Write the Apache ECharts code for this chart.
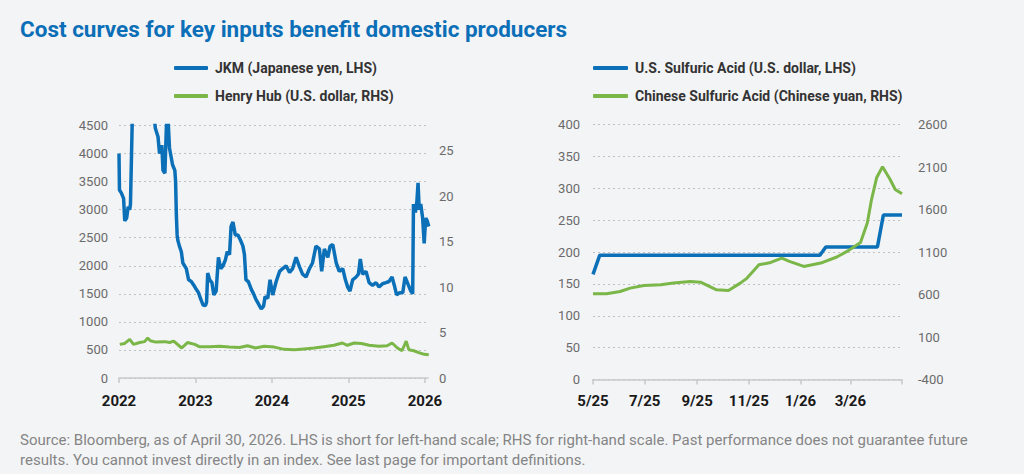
<!DOCTYPE html>
<html>
<head>
<meta charset="utf-8">
<script src="https://cdn.jsdelivr.net/npm/echarts@6/dist/echarts.min.js"></script>
<style>
  html, body { margin: 0; padding: 0; background: #f3f4f6; }
  #chart { width: 1024px; height: 474px; }
</style>
</head>
<body>
<div id="chart"></div>
<script>
// ---------- DATA ----------
const titleText = 'Cost curves for key inputs benefit domestic producers';
const footerLines = [
  'Source: Bloomberg, as of April 30, 2026. LHS is short for left-hand scale; RHS for right-hand scale. Past performance does not guarantee future',
  'results. You cannot invest directly in an index. See last page for important definitions.'
];
const leftNames = ['JKM (Japanese yen, LHS)', 'Henry Hub (U.S. dollar, RHS)'];
const rightNames = ['U.S. Sulfuric Acid (U.S. dollar, LHS)', 'Chinese Sulfuric Acid (Chinese yuan, RHS)'];

const yearTicks = [2022, 2023, 2024, 2025, 2026];
const hhTicks = [0, 5, 10, 15, 20, 25];
const rightTickDates = ['2025-05-01', '2025-07-01', '2025-09-01', '2025-11-01', '2026-01-01', '2026-03-01', '2026-05-01'];

// JKM (year fraction, yen)
const jkmX = [2022.000,2022.006,2022.030,2022.060,2022.075,2022.100,2022.120,2022.140,2022.150,2022.175,2022.200,2022.250,2022.350,2022.450,2022.475,2022.510,2022.530,2022.560,2022.575,2022.600,2022.620,2022.640,2022.660,2022.700,2022.730,2022.740,2022.750,2022.760,2022.770,2022.790,2022.815,2022.835,2022.880,2022.910,2022.945,2022.980,2023.010,2023.040,2023.070,2023.100,2023.130,2023.145,2023.160,2023.185,2023.215,2023.240,2023.270,2023.300,2023.330,2023.360,2023.390,2023.415,2023.445,2023.465,2023.490,2023.520,2023.555,2023.590,2023.620,2023.640,2023.660,2023.690,2023.730,2023.760,2023.790,2023.820,2023.860,2023.890,2023.910,2023.945,2023.975,2023.995,2024.010,2024.055,2024.100,2024.140,2024.185,2024.230,2024.270,2024.315,2024.360,2024.400,2024.445,2024.490,2024.530,2024.575,2024.620,2024.650,2024.685,2024.730,2024.760,2024.795,2024.840,2024.880,2024.925,2024.960,2024.990,2025.020,2025.055,2025.100,2025.130,2025.155,2025.185,2025.230,2025.270,2025.315,2025.360,2025.400,2025.445,2025.490,2025.530,2025.570,2025.600,2025.630,2025.670,2025.710,2025.740,2025.785,2025.815,2025.840,2025.850,2025.875,2025.895,2025.910,2025.925,2025.945,2025.970,2025.990,2026.010,2026.030,2026.050];
const jkmY = [4000,3350,3300,3200,2800,2850,3050,3000,3100,4700,5600,6200,5400,4800,4450,4300,4000,4150,3700,3650,4500,4650,4100,3800,3700,3500,2900,2550,2450,2350,2250,2050,1950,1750,1720,1650,1580,1520,1400,1300,1290,1350,1870,1750,1700,1480,1550,2150,1950,2000,2100,2250,2200,2700,2780,2550,2550,2450,2350,2200,1750,1720,1580,1500,1400,1330,1230,1280,1450,1420,1750,1600,1480,1720,1900,1950,2000,1880,1950,2150,1980,1850,1800,1950,2050,2350,2300,1900,2300,2150,2350,2380,2050,1900,1950,1750,1620,1550,1750,1800,1850,2120,1850,1900,1700,1650,1700,1620,1680,1700,1720,1800,1650,1480,1520,1520,1800,1650,1550,1500,3100,2950,3150,3480,3000,3100,2850,2400,2850,2800,2700];

// Henry Hub (year fraction, USD)
const hhX = [2022.01,2022.075,2022.14,2022.19,2022.27,2022.335,2022.375,2022.41,2022.48,2022.60,2022.66,2022.715,2022.82,2022.895,2022.99,2023.05,2023.185,2023.315,2023.445,2023.575,2023.68,2023.785,2023.90,2024.03,2024.16,2024.29,2024.42,2024.55,2024.68,2024.81,2024.92,2024.985,2025.075,2025.17,2025.27,2025.40,2025.505,2025.57,2025.64,2025.70,2025.755,2025.79,2025.855,2025.92,2025.99,2026.05];
const hhY = [3.7,3.8,4.25,3.7,3.9,4.0,4.4,4.1,3.95,4.0,3.9,4.05,3.3,3.9,3.7,3.45,3.45,3.5,3.4,3.35,3.55,3.3,3.5,3.4,3.15,3.1,3.2,3.3,3.45,3.6,3.85,3.6,3.85,3.8,3.6,3.5,3.55,3.85,3.3,3.0,4.05,3.1,3.0,2.8,2.6,2.55];

// U.S. Sulfuric Acid (USD)
const usDates = ['2025-05-01','2025-05-09','2026-01-24','2026-01-31','2026-04-02','2026-04-09','2026-05-01'];
const usVals = [165,195,195,208,208,258,258];

// Chinese Sulfuric Acid (CNY)
const cnDates = ['2025-05-01','2025-05-17','2025-06-02','2025-06-14','2025-06-30','2025-07-20','2025-08-04','2025-08-24','2025-09-05','2025-09-24','2025-10-08','2025-10-22','2025-10-30','2025-11-13','2025-11-27','2025-12-10','2025-12-19','2026-01-05','2026-01-25','2026-02-13','2026-02-25','2026-03-13','2026-03-21','2026-03-26','2026-04-01','2026-04-08','2026-04-17','2026-04-23','2026-05-01'];
const cnVals = [608,608,635,675,706,714,734,753,745,655,647,734,793,950,977,1029,990,930,970,1041,1107,1213,1442,1717,1973,2102,1953,1835,1784];

// ---------- HELPERS ----------
const COND = 'Roboto';
const REG = 'Roboto';

const DAY = 86400000;
const base = Date.UTC(2025, 4, 1);
function dayOff(s) {
  const p = s.split('-').map(Number);
  return Math.round((Date.UTC(p[0], p[1] - 1, p[2]) - base) / DAY);
}
function zip(xs, ys) { return xs.map((x, i) => [x, ys[i]]); }

const BLUE = '#0b70b8';
const GREEN = '#7ab648';
const GRIDC = '#bfc1c4';
const AXC = '#c8c9cb';

const rightTicks = rightTickDates.map(dayOff);

const chart = echarts.init(document.getElementById('chart'), null, { renderer: 'svg' });

const yLabel = { color: '#6b6b6b', fontFamily: REG, fontSize: 13, formatter: v => String(v) };
const xLabel = { color: '#1a1a1a', fontFamily: COND, fontSize: 15, fontWeight: 'bold' };
const split = { show: true, lineStyle: { color: GRIDC, type: [2, 3], width: 1 } };
const legText = { fontFamily: COND, fontSize: 14, fontWeight: 'bold', color: '#333', lineHeight: 16, padding: [0, 0, 0, 2] };

chart.setOption({
  backgroundColor: '#f3f4f6',
  animation: false,
  graphic: [
    { type: 'text', x: 20, y: 18, scaleX: 0.978, style: { text: titleText, font: 'bold 23px ' + COND, fill: '#0b6fb8' } },
    { type: 'text', x: 20, y: 432, style: { text: footerLines[0], font: '15px ' + COND, fill: '#858585' } },
    { type: 'text', x: 20, y: 452, style: { text: footerLines[1], font: '15px ' + COND, fill: '#858585' } }
  ],
  legend: [
    {
      data: leftNames, left: 174, top: 60, orient: 'vertical', itemGap: 12,
      icon: 'roundRect', itemWidth: 34, itemHeight: 4, padding: 0, textStyle: legText
    },
    {
      data: rightNames, left: 593, top: 60, orient: 'vertical', itemGap: 12,
      icon: 'roundRect', itemWidth: 35, itemHeight: 4, padding: 0, textStyle: legText
    }
  ],
  grid: [
    { left: 119, top: 125.5, width: 309, height: 252.5, containLabel: false },
    { left: 593, top: 124.5, width: 309, height: 255, containLabel: false }
  ],
  xAxis: [
    {
      type: 'value', gridIndex: 0, min: 2022, max: 2026.04,
      axisLine: { show: true, onZero: false, lineStyle: { color: AXC, width: 1.5 } },
      axisTick: { show: true, length: 5, lineStyle: { color: AXC, width: 1.5 }, customValues: yearTicks },
      axisLabel: Object.assign({ margin: 15, customValues: yearTicks, formatter: v => String(Math.round(v)) }, xLabel),
      splitLine: { show: false }
    },
    {
      type: 'value', gridIndex: 1, min: 0, max: 365,
      axisLine: { show: true, onZero: false, lineStyle: { color: AXC, width: 1.5 } },
      axisTick: { show: true, length: 5, lineStyle: { color: AXC, width: 1.5 }, customValues: rightTicks },
      axisLabel: Object.assign({
        margin: 14, customValues: rightTicks.slice(0, 6),
        formatter: v => { const d = new Date(base + v * DAY); return (d.getUTCMonth() + 1) + '/' + String(d.getUTCFullYear()).slice(2); }
      }, xLabel),
      splitLine: { show: false }
    }
  ],
  yAxis: [
    {
      type: 'value', gridIndex: 0, min: 0, max: 4500, interval: 500, position: 'left',
      axisLine: { show: false }, axisTick: { show: false },
      axisLabel: Object.assign({ margin: 11 }, yLabel), splitLine: split
    },
    {
      type: 'value', gridIndex: 0, min: 0, max: 4500 / 162, position: 'right',
      axisLine: { show: false }, axisTick: { show: false },
      axisLabel: Object.assign({ margin: 11, customValues: hhTicks }, yLabel), splitLine: { show: false }
    },
    {
      type: 'value', gridIndex: 1, min: 0, max: 400, interval: 50, position: 'left',
      axisLine: { show: false }, axisTick: { show: false },
      axisLabel: Object.assign({ margin: 13 }, yLabel), splitLine: split
    },
    {
      type: 'value', gridIndex: 1, min: -400, max: 2600, interval: 500, position: 'right',
      axisLine: { show: false }, axisTick: { show: false },
      axisLabel: Object.assign({ margin: 16 }, yLabel), splitLine: { show: false }
    }
  ],
  series: [
    {
      name: leftNames[0], type: 'line', xAxisIndex: 0, yAxisIndex: 0, data: zip(jkmX, jkmY),
      showSymbol: false, color: BLUE, lineStyle: { color: BLUE, width: 3.5 }, clip: true
    },
    {
      name: leftNames[1], type: 'line', xAxisIndex: 0, yAxisIndex: 1, data: zip(hhX, hhY),
      showSymbol: false, color: GREEN, lineStyle: { color: GREEN, width: 3 }, clip: true
    },
    {
      name: rightNames[0], type: 'line', xAxisIndex: 1, yAxisIndex: 2, data: zip(usDates.map(dayOff), usVals),
      showSymbol: false, color: BLUE, lineStyle: { color: BLUE, width: 3.5 }, clip: true
    },
    {
      name: rightNames[1], type: 'line', xAxisIndex: 1, yAxisIndex: 3, data: zip(cnDates.map(dayOff), cnVals),
      showSymbol: false, color: GREEN, lineStyle: { color: GREEN, width: 3 }, clip: true
    }
  ]
});
</script>
</body>
</html>
